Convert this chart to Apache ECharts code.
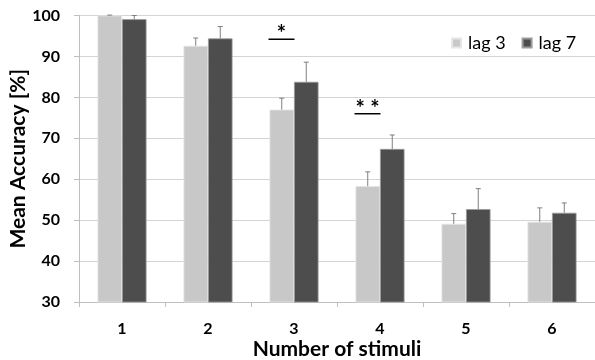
<!DOCTYPE html>
<html><head><meta charset="utf-8">
<script src="https://cdn.jsdelivr.net/npm/echarts@6/dist/echarts.min.js"></script>
<style>html,body{margin:0;padding:0;background:#fff}#c{width:595px;height:360px}</style>
</head><body><div id="c"></div>
<script>
const categories = ['1', '2', '3', '4', '5', '6'];
const lag3 = [100, 92.6, 77.0, 58.3, 49.1, 49.6];
const lag7 = [99.1, 94.4, 83.8, 67.4, 52.7, 51.8];
const lag3Err = [0.1, 1.9, 2.8, 3.5, 2.5, 3.4];
const lag7Err = [0.9, 2.9, 4.8, 3.4, 5.0, 2.4];
const sigCats = ['3', '4'];
const sigY = [94.2, 76.0];
const sigLabels = ['*', '* *'];
const yTicks = { min: 30, max: 100, interval: 10 };

const FONT = 'Lato';
const BAR_FRAC = 0.285;

function errSeries(name, vals, errs, side) {
  return {
    type: 'custom', name: name + ' err', silent: true, z: 5,
    data: vals.map((v, i) => [i, v, v + errs[i]]),
    renderItem: function (params, api) {
      const band = api.size([1, 0])[0];
      const off = side * band * BAR_FRAC / 2;
      const base = api.coord([api.value(0), api.value(1)]);
      const top = api.coord([api.value(0), api.value(2)]);
      const x = base[0] + off;
      const cap = 2.5;
      const st = { stroke: '#7f7f7f', lineWidth: 1 };
      return { type: 'group', children: [
        { type: 'line', shape: { x1: x, y1: base[1], x2: x, y2: top[1] }, style: st },
        { type: 'line', shape: { x1: x - cap, y1: top[1], x2: x + cap, y2: top[1] }, style: st }
      ]};
    }
  };
}

const chart = echarts.init(document.getElementById('c'), null, { renderer: 'canvas' });
chart.setOption({
  animation: false,
  textStyle: { fontFamily: FONT },
  grid: { left: 79, right: 0, top: 15.5, bottom: 58, containLabel: false, outerBoundsMode: 'none' },
  legend: {
    left: 446, top: 29, itemWidth: 9, itemHeight: 9, itemGap: 16,
    icon: 'rect',
    data: ['lag 3', 'lag 7'],
    textStyle: { fontFamily: FONT, fontSize: 18, color: '#000', padding: [0, 0, 0, 2] }
  },
  xAxis: {
    type: 'category', data: categories,
    name: 'Number of stimuli', nameLocation: 'middle', nameGap: 37, nameMoveOverlap: false,
    nameTextStyle: { fontFamily: FONT, fontSize: 21, fontWeight: 'bold', color: '#000' },
    axisLine: { lineStyle: { color: '#bfbfbf' } },
    axisTick: { show: true, length: 5, lineStyle: { color: '#bfbfbf' } },
    axisLabel: { fontFamily: FONT, fontSize: 16, fontWeight: 'bold', color: '#000', margin: 19 }
  },
  yAxis: {
    type: 'value', min: yTicks.min, max: yTicks.max, interval: yTicks.interval,
    name: 'Mean Accuracy [%]', nameLocation: 'middle', nameGap: 50, nameMoveOverlap: false,
    nameTextStyle: { fontFamily: FONT, fontSize: 21, fontWeight: 'bold', color: '#000' },
    axisLine: { show: true, lineStyle: { color: '#bfbfbf' } },
    axisTick: { show: true, length: 5, lineStyle: { color: '#bfbfbf' } },
    axisLabel: { fontFamily: FONT, fontSize: 16, fontWeight: 'bold', color: '#000', margin: 19 },
    splitLine: { lineStyle: { color: '#d4d4d4' } }
  },
  series: [
    { name: 'lag 3', type: 'bar', data: lag3, barWidth: (BAR_FRAC * 100) + '%', barGap: '0%',
      itemStyle: { color: '#c8c8c8', borderColor: '#e6e6e6', borderWidth: 0.8 } },
    { name: 'lag 7', type: 'bar', data: lag7, barWidth: (BAR_FRAC * 100) + '%', barGap: '0%',
      itemStyle: { color: '#4d4d4d', borderColor: '#9a9a9a', borderWidth: 0.8 } },
    errSeries('lag 3', lag3, lag3Err, -1),
    errSeries('lag 7', lag7, lag7Err, 1),
    {
      type: 'custom', name: 'sig', silent: true, z: 6,
      data: sigCats.map((c, i) => [categories.indexOf(c), sigY[i], i]),
      renderItem: function (params, api) {
        const band = api.size([1, 0])[0];
        const p = api.coord([api.value(0), api.value(1)]);
        const x1 = p[0] - band * BAR_FRAC - 1;
        const x2 = p[0] + 0.5;
        const label = sigLabels[api.value(2)];
        return { type: 'group', children: [
          { type: 'line', shape: { x1: x1, y1: p[1], x2: x2, y2: p[1] }, style: { stroke: '#000', lineWidth: 1.5 } },
          { type: 'text', x: (x1 + x2) / 2, y: p[1] + 6,
            style: { text: label, fill: '#000', font: 'bold 22px ' + FONT, align: 'center', verticalAlign: 'bottom' } }
        ]};
      }
    }
  ]
});
</script></body></html>
